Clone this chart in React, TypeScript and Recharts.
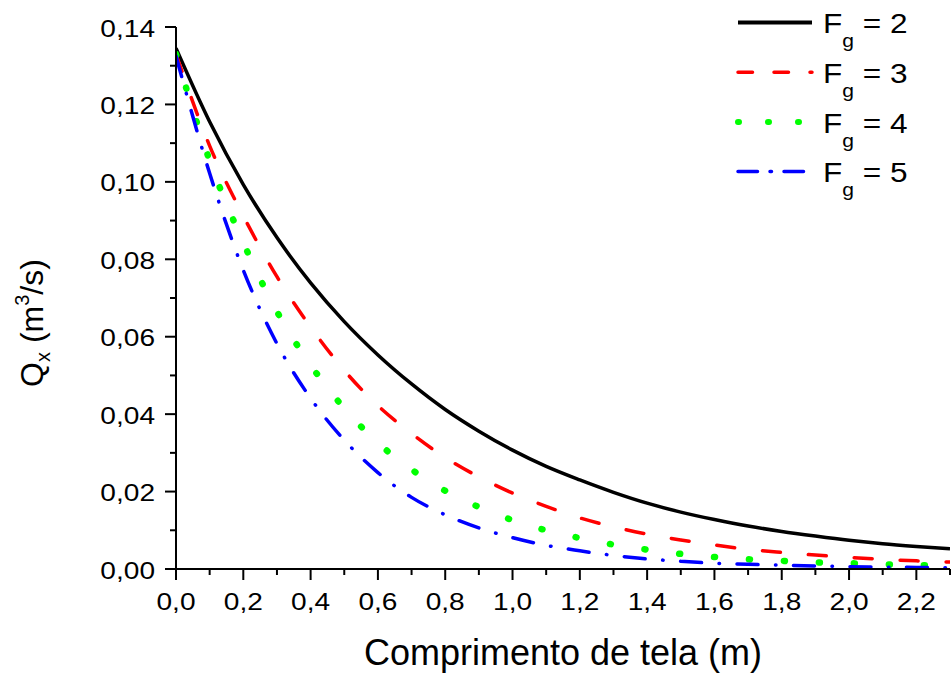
import React from 'react';
import { LineChart, Line, XAxis, YAxis, Legend } from 'recharts';

const XS = [0, 0.1, 0.2, 0.3, 0.4, 0.5, 0.6, 0.7, 0.8, 0.9, 1.0, 1.1, 1.2, 1.3, 1.4, 1.5, 1.6, 1.7, 1.8, 1.9, 2.0, 2.1, 2.2, 2.3];
const FG2 = [0.1345, 0.1155, 0.0993, 0.0856, 0.0739, 0.0639, 0.0553, 0.0478, 0.0412, 0.0356, 0.0307, 0.0265, 0.0230, 0.0198, 0.0170, 0.0147, 0.0128, 0.0111, 0.0097, 0.0085, 0.0074, 0.0065, 0.0058, 0.0052];
const FG3 = [0.1330, 0.1093, 0.0912, 0.0755, 0.0625, 0.0513, 0.0422, 0.0350, 0.0288, 0.0238, 0.0196, 0.0162, 0.0132, 0.0109, 0.0090, 0.0075, 0.0062, 0.0051, 0.0043, 0.0036, 0.0030, 0.0025, 0.0021, 0.0018];
const FG4 = [0.1330, 0.1055, 0.0843, 0.0665, 0.0527, 0.0415, 0.0326, 0.0257, 0.0202, 0.0160, 0.0126, 0.0100, 0.0080, 0.0063, 0.0050, 0.0039, 0.0031, 0.0025, 0.0021, 0.0017, 0.0015, 0.0012, 0.0010, 0.0009];
const FG5 = [0.1325, 0.1022, 0.0772, 0.0582, 0.0441, 0.0333, 0.0249, 0.0185, 0.0140, 0.0106, 0.0081, 0.0061, 0.0047, 0.0035, 0.0026, 0.0020, 0.0015, 0.0012, 0.0010, 0.0008, 0.0006, 0.0005, 0.0004, 0.0003];

const X_TICKS = [0, 0.1, 0.2, 0.3, 0.4, 0.5, 0.6, 0.7, 0.8, 0.9, 1.0, 1.1, 1.2, 1.3, 1.4, 1.5, 1.6, 1.7, 1.8, 1.9, 2.0, 2.1, 2.2, 2.3];
const Y_TICKS = [0, 0.01, 0.02, 0.03, 0.04, 0.05, 0.06, 0.07, 0.08, 0.09, 0.10, 0.11, 0.12, 0.13, 0.14];

const SERIES = [
  { key: 'fg2', label: '2', color: '#000000', width: 3.5, legendWidth: 4, dash: undefined, legendDash: undefined, values: FG2 },
  { key: 'fg3', label: '3', color: '#ff0000', width: 3.5, legendWidth: 3.5, dash: '18 28', legendDash: '14.5 21.5', values: FG3 },
  { key: 'fg4', label: '4', color: '#00ff00', width: 6.5, legendWidth: 6, dash: '1 34', legendDash: '1 29', values: FG4 },
  { key: 'fg5', label: '5', color: '#0000ff', width: 3.5, legendWidth: 3.5, dash: '21 17.5 0.5 17.5', legendDash: '19.5 12.5 1.5 12.5', values: FG5 },
];

const DATA = XS.map((x, i) => {
  const row: any = { x };
  SERIES.forEach((s) => { row[s.key] = s.values[i]; });
  return row;
});

const FONT = '"Liberation Sans", Arial, sans-serif';
const STRETCH = 1.17;

const fmtX = (v: number) => v.toFixed(1).replace('.', ',');
const fmtY = (v: number) => v.toFixed(2).replace('.', ',');

const XTick = (props: any) => {
  const { x, y, payload } = props;
  const v = payload.value as number;
  const major = Math.round(v * 10) % 2 === 0;
  return (
    <g>
      <line x1={x} x2={x} y1={y} y2={y + (major ? 11 : 6)} stroke="#000" strokeWidth={2} />
      {major && (
        <text
          transform={`translate(${x}, ${y + 41}) scale(${STRETCH}, 1)`}
          textAnchor="middle"
          fontSize={24}
          fontFamily={FONT}
          fill="#000"
        >
          {fmtX(v)}
        </text>
      )}
    </g>
  );
};

const YTick = (props: any) => {
  const { x, y, payload } = props;
  const v = payload.value as number;
  const major = Math.round(v * 100) % 2 === 0;
  return (
    <g>
      <line x1={x - (major ? 11 : 6)} x2={x} y1={y} y2={y} stroke="#000" strokeWidth={2} />
      {major && (
        <text
          transform={`translate(${x - 21}, ${y + 9.5}) scale(${STRETCH}, 1)`}
          textAnchor="end"
          fontSize={24}
          fontFamily={FONT}
          fill="#000"
        >
          {fmtY(v)}
        </text>
      )}
    </g>
  );
};

const YTitle = () => (
  <text
    x={43}
    y={323}
    transform="rotate(-90, 43, 323)"
    textAnchor="middle"
    fontSize={32}
    fontFamily={FONT}
    fill="#000"
  >
    Q<tspan fontSize={20} dy={7}>x</tspan>
    <tspan dy={-7}> (m</tspan>
    <tspan fontSize={20} dy={-14}>3</tspan>
    <tspan dy={14}>/s)</tspan>
  </text>
);

const LegendContent = () => (
  <svg width={951} height={210} style={{ display: 'block' }}>
    {SERIES.map((s, i) => {
      const cy = 22.5 + i * 49.7;
      return (
        <g key={s.key}>
          <line
            x1={738}
            x2={812}
            y1={cy}
            y2={cy}
            stroke={s.color}
            strokeWidth={s.legendWidth}
            strokeDasharray={s.legendDash}
            strokeLinecap={s.key === 'fg2' ? 'butt' : 'round'}
          />
          <text
            transform={`translate(823, ${cy + 10.6}) scale(${STRETCH}, 1)`}
            fontSize={27}
            fontFamily={FONT}
            fill="#000"
          >
            F<tspan fontSize={18} dy={14}>g</tspan>
            <tspan dy={-14}>{' = ' + s.label}</tspan>
          </text>
        </g>
      );
    })}
  </svg>
);

export default function App() {
  return (
    <div style={{ position: 'absolute', left: 0, top: 0, width: 951, height: 675, background: '#fff' }}>
      <LineChart width={951} height={675} data={DATA} margin={{ top: 27, right: 1, bottom: 0, left: 0 }}>
        <XAxis
          dataKey="x"
          type="number"
          domain={[0, 2.3]}
          ticks={X_TICKS}
          interval={0}
          allowDataOverflow
          height={106}
          tickSize={0}
          tickMargin={0}
          tickLine={false}
          tick={<XTick />}
          axisLine={{ stroke: '#000', strokeWidth: 2 }}
          label={{
            value: 'Comprimento de tela (m)',
            position: 'insideBottom',
            offset: 10,
            style: { fontSize: 36, fontFamily: FONT, fill: '#000' },
          }}
        />
        <YAxis
          type="number"
          domain={[0, 0.14]}
          ticks={Y_TICKS}
          interval={0}
          allowDataOverflow
          width={176}
          tickSize={0}
          tickMargin={0}
          tickLine={false}
          tick={<YTick />}
          axisLine={{ stroke: '#000', strokeWidth: 2 }}
          label={<YTitle />}
        />
        <Legend
          layout="vertical"
          align="center"
          verticalAlign="middle"
          content={<LegendContent />}
          wrapperStyle={{ position: 'absolute', left: 0, top: 0, width: 951, height: 210, pointerEvents: 'none' }}
        />
        {SERIES.map((s) => (
          <Line
            key={s.key}
            dataKey={s.key}
            name={'Fg = ' + s.label}
            type="monotone"
            stroke={s.color}
            strokeWidth={s.width}
            strokeDasharray={s.dash}
            strokeLinecap={s.dash ? 'round' : 'butt'}
            dot={false}
            activeDot={false}
            isAnimationActive={false}
          />
        ))}
      </LineChart>
    </div>
  );
}
